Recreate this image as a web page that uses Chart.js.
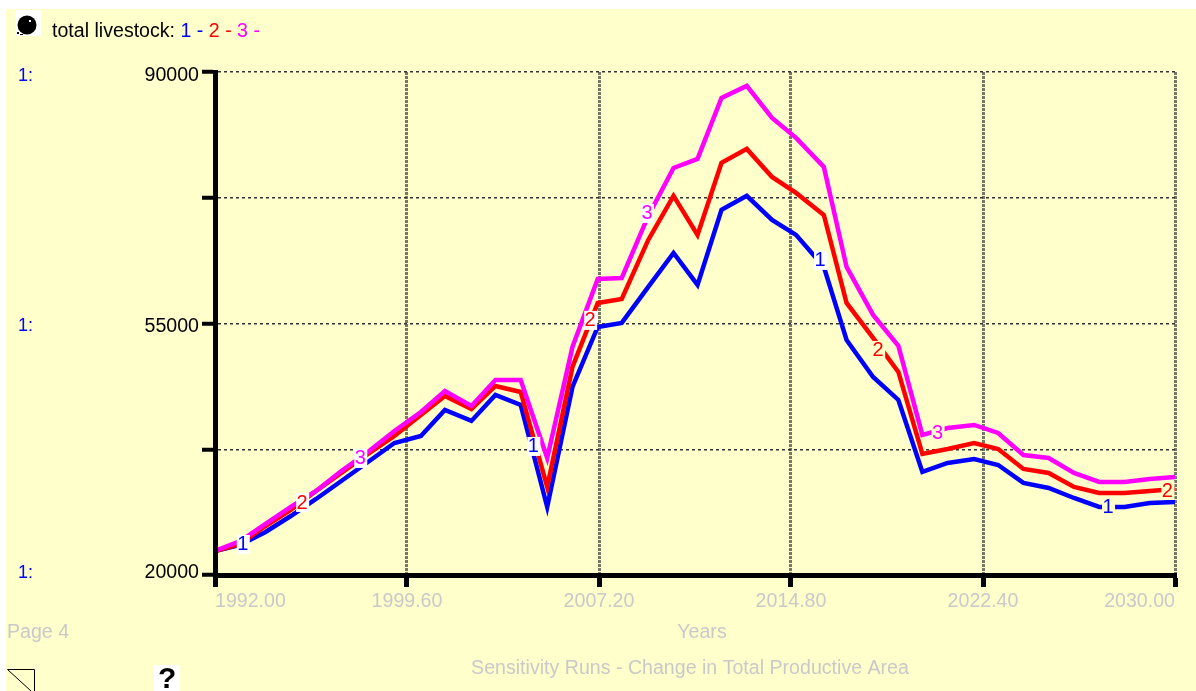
<!DOCTYPE html>
<html>
<head>
<meta charset="utf-8">
<title>total livestock</title>
<script src="https://cdn.jsdelivr.net/npm/chart.js@4"></script>
<style>
  html, body { margin: 0; padding: 0; background: #fff; }
  canvas { display: block; }
</style>
</head>
<body>
<canvas id="grafico" width="1196" height="691"></canvas>
<script>
// values
const years = [1992, 1993, 1994, 1995, 1996, 1997, 1998, 1999.1, 2000.15, 2001.1, 2002.15, 2003.1, 2004.1,
  2005.15, 2006.15, 2007.15, 2008.1, 2009.15, 2010.15, 2011.1, 2012.05, 2013.05, 2014.05, 2015, 2016.1, 2017,
  2018.05, 2019.05, 2020, 2021, 2022.05, 2023, 2024, 2025, 2026, 2027, 2028, 2029, 2030];

const run1 = [23340, 24180, 25990, 28210, 30580, 33080, 35590, 38370, 39350, 42970, 41440, 45060, 43660,
  29470, 46170, 54520, 55080, 60090, 64820, 60370, 70810, 72760, 69420, 67330, 62870, 52710,
  47560, 44360, 34340, 35590, 36150, 35310, 32810, 32110, 30720, 29470, 29470, 30020, 30160];

const run2 = [23340, 24320, 26820, 29050, 31690, 34200, 36700, 39350, 42270, 44920, 43110, 46310, 45470,
  32250, 48950, 57860, 58420, 66630, 72760, 67330, 77350, 79300, 75400, 73170, 70110, 57860,
  52990, 48260, 36840, 37540, 38370, 37540, 34760, 34200, 32250, 31410, 31410, 31690, 31970];

const run3 = [23340, 24730, 27100, 29470, 31690, 34480, 36980, 40050, 42690, 45610, 43520, 47140, 47140,
  36290, 51740, 61200, 61340, 69970, 76650, 77910, 86400, 88070, 83610, 80830, 76790, 62870,
  56190, 51880, 39490, 40460, 40880, 39770, 36700, 36290, 34200, 32950, 32950, 33360, 33640];

const yLabels = [20000, 55000, 90000];

// numbers sitting on the lines
const markerRuns = [1, 2, 3, 1, 2, 3, 1, 2, 3, 1, 2];
const markerYears = [1993.1, 1995.45, 1997.75, 2004.6, 2006.85, 2009.1, 2015.95, 2018.25, 2020.6, 2027.35, 2029.7];
const markerValues = [24320, 30160, 36290, 37960, 55500, 70390, 63850, 51320, 39900, 29470, 31830];

const azul = '#0000ff';
const vermelho = '#ff0000';
const magenta = '#ff00ff';
const cinza = '#c9c9c9';
const fundo = '#ffffcc';
const corRun = { 1: azul, 2: vermelho, 3: magenta };
const fonte = '"Liberation Sans", Arial, sans-serif';

function serie(label, valores, cor, ordem) {
  return {
    label: label,
    data: valores.map((v, i) => ({ x: years[i], y: v })),
    borderColor: cor,
    borderWidth: 4.5,
    borderCapStyle: 'butt',
    borderJoinStyle: 'miter',
    pointRadius: 0,
    tension: 0,
    order: ordem
  };
}

function texto(ctx, t, x, y, cor, tam) {
  ctx.fillStyle = cor;
  ctx.font = tam + 'px ' + fonte;
  ctx.fillText(t, x, y);
  return ctx.measureText(t).width;
}

const moldura = {
  id: 'moldura',
  beforeDraw(chart) {
    const ctx = chart.ctx;
    ctx.save();
    ctx.fillStyle = '#fff';
    ctx.fillRect(0, 0, 1196, 691);
    ctx.fillStyle = fundo;
    ctx.fillRect(6, 9, 1190, 682);

    // globe icon
    ctx.fillStyle = '#fff';
    ctx.fillRect(15, 10, 26, 26);
    ctx.fillStyle = '#000';
    ctx.beginPath();
    ctx.arc(27, 25, 9.5, 0, Math.PI * 2);
    ctx.fill();
    ctx.fillRect(17, 32, 2, 2);
    ctx.fillRect(20, 34, 3, 1);
    ctx.fillStyle = '#fff';
    ctx.fillRect(29, 20, 2, 2);

    // bottom icons
    ctx.strokeStyle = '#000';
    ctx.lineWidth = 1;
    ctx.beginPath();
    ctx.moveTo(7.5, 669.5);
    ctx.lineTo(34.5, 669.5);
    ctx.lineTo(34.5, 691);
    ctx.moveTo(7.5, 669.5);
    ctx.lineTo(31, 691);
    ctx.stroke();
    ctx.fillStyle = '#fff';
    ctx.fillRect(154, 665, 26, 26);

    ctx.textBaseline = 'middle';
    ctx.textAlign = 'left';
    texto(ctx, '?', 158, 680, '#000', 'bold 30');

    // header
    let x = 52;
    x += texto(ctx, 'total livestock: ', x, 32, '#000', 19.6);
    [['1', azul], ['2', vermelho], ['3', magenta]].forEach(p => {
      x += texto(ctx, p[0] + ' ', x, 32, p[1], 19.6);
      x += texto(ctx, '- ', x, 32, p[1], 19.6);
    });

    texto(ctx, '1:', 18, 76, azul, 18);
    texto(ctx, '1:', 18, 326, azul, 18);
    texto(ctx, '1:', 18, 573, azul, 18);

    texto(ctx, 'Page 4', 7, 633, cinza, 19.6);
    ctx.textAlign = 'center';
    texto(ctx, 'Years', 702, 633, cinza, 19.6);
    texto(ctx, 'Sensitivity Runs - Change in Total Productive Area', 690, 669, cinza, 19.6);

    // y labels sit a little inside the ends of the axis in the reference
    const sy = chart.scales.y;
    ctx.textAlign = 'right';
    yLabels.forEach(v => {
      const desvio = v === yLabels[0] ? -2 : (v === yLabels[yLabels.length - 1] ? 4 : 3);
      texto(ctx, String(v), 199, sy.getPixelForValue(v) + desvio, '#000', 19.6);
    });
    ctx.restore();
  },
  afterDatasetsDraw(chart) {
    const ctx = chart.ctx;
    const sx = chart.scales.x;
    const sy = chart.scales.y;
    ctx.save();
    ctx.font = '20px ' + fonte;
    ctx.textAlign = 'center';
    ctx.textBaseline = 'middle';
    markerRuns.forEach((run, i) => {
      const px = sx.getPixelForValue(markerYears[i]);
      const py = sy.getPixelForValue(markerValues[i]);
      ctx.fillStyle = markerYears[i] < 2016.5 ? '#fff' : fundo;
      ctx.fillRect(px - 6, py - 9, 13, 19);
      ctx.fillStyle = corRun[run];
      ctx.fillText(String(run), px, py + 1);
    });
    ctx.restore();
  }
};

new Chart(document.querySelector('#grafico'), {
  type: 'line',
  data: {
    datasets: [
      serie('1', run1, azul, 3),
      serie('2', run2, vermelho, 2),
      serie('3', run3, magenta, 1)
    ]
  },
  plugins: [moldura],
  options: {
    responsive: false,
    animation: false,
    parsing: false,
    layout: { autoPadding: false, padding: { top: 72, right: 21, left: 0, bottom: 0 } },
    plugins: { legend: { display: false }, title: { display: false }, tooltip: { enabled: false } },
    scales: {
      x: {
        type: 'linear',
        min: 1992,
        max: 2030,
        afterFit(scale) { scale.height = 116; },
        border: { color: '#000', width: 5, z: 1, dash: [3, 1] },
        grid: { color: '#777768', lineWidth: 3, tickColor: '#000', tickWidth: 5, tickLength: 12, tickBorderDash: [] },
        ticks: {
          stepSize: 7.6,
          autoSkip: false,
          maxRotation: 0,
          align: 'inner',
          padding: 3,
          color: cinza,
          font: { family: fonte, size: 19.6 },
          callback: v => v.toFixed(2)
        }
      },
      y: {
        type: 'linear',
        min: 20000,
        max: 90000,
        afterFit(scale) { scale.width = 215; },
        border: { color: '#000', width: 5, z: 1, dash: [3, 3] },
        grid: { color: '#333', lineWidth: 1.5, tickColor: '#000', tickWidth: 4, tickLength: 13, tickBorderDash: [] },
        ticks: {
          stepSize: 17500,
          autoSkip: false,
          padding: 3,
          display: false
        }
      }
    }
  }
});
</script>
</body>
</html>
